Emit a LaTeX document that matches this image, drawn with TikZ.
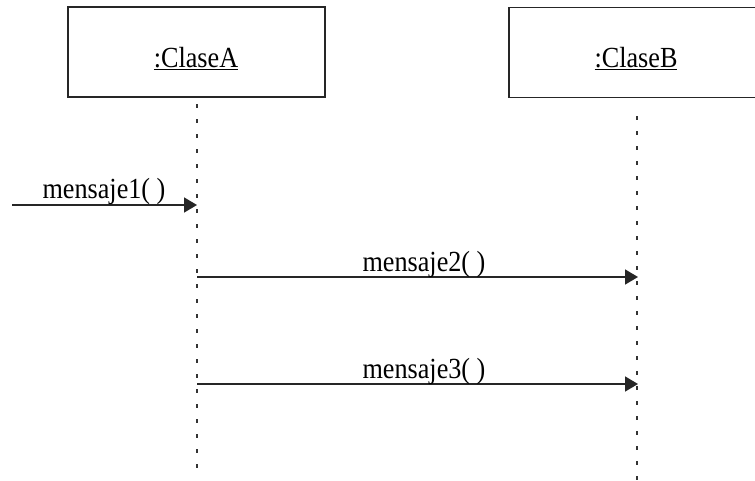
\documentclass[tikz,border=0pt]{standalone}
\usepackage{fontspec}
\setmainfont{Liberation Serif}
\usetikzlibrary{arrows.meta}
\begin{document}
\begin{tikzpicture}[x=1pt,y=-1pt,
  objbox/.style={draw=black!85, line width=1.8pt, minimum height=90pt, inner sep=0pt},
  lifeline/.style={draw=black!80, line width=1.4pt, dash pattern=on 4pt off 11pt},
  msg/.style={draw=black!85, line width=1.6pt, -{Triangle[length=13pt,width=15pt]}},
  lbl/.style={font=\fontsize{27}{30}\selectfont, inner sep=0pt, anchor=base, yscale=1.08, xscale=0.97}]
\useasboundingbox[fill=white] (0,0) rectangle (755,480);
\node[objbox, minimum width=257pt] (A) at (196.5,52) {};
\node[objbox, minimum width=260pt] (B) at (639,52.5) {};
\node[lbl] (Alab) at (196,67) {\underline{:ClaseA}};
\node[lbl] (Blab) at (636,67) {\underline{:ClaseB}};
\coordinate (Atop) at (197,104);
\coordinate (Abot) at (197,470);
\coordinate (Btop) at (637,116);
\coordinate (Bbot) at (637,482);
\draw[lifeline] (Atop) -- (Abot);
\draw[lifeline, line width=1.8pt] (Btop) -- (Bbot);
\coordinate (s1) at (12,205);
\coordinate (t1) at (197,205);
\coordinate (s2) at (197,277);
\coordinate (t2) at (638,277);
\coordinate (s3) at (197,384);
\coordinate (t3) at (638,384);
\draw[msg] (s1) -- (t1);
\draw[msg] (s2) -- (t2);
\draw[msg] (s3) -- (t3);
\node[lbl] (m1) at (104,198) {mensaje1( )};
\node[lbl] (m2) at (424,271) {mensaje2( )};
\node[lbl] (m3) at (424,378) {mensaje3( )};
\end{tikzpicture}
\end{document}
